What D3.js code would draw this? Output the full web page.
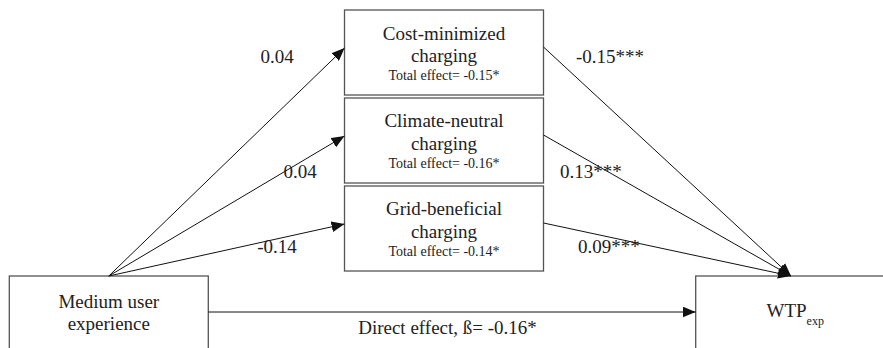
<!DOCTYPE html>
<html>
<head>
<meta charset="utf-8">
<script src="https://cdn.jsdelivr.net/npm/d3@7"></script>
<style>
	body { margin: 0; background: #fff; }
	svg text { fill: #222; }
</style>
</head>
<body>
<svg width="883" height="348" font-family="'Liberation Serif', 'Times New Roman', Times, 'DejaVu Serif', serif"></svg>
<script>
// Data
var mediators = ["Cost-minimized", "Climate-neutral", "Grid-beneficial"];
var mediatorSuffix = "charging";
var totalEffects = [-0.15, -0.16, -0.14];
var totalStars = ["*", "*", "*"];
var aPaths = [0.04, 0.04, -0.14];
var aStars = ["", "", ""];
var bPaths = [-0.15, 0.13, 0.09];
var bStars = ["***", "***", "***"];
var directEffect = -0.16;
var directStars = "*";
var predictorLines = ["Medium user", "experience"];
var outcomeName = "WTP";
var outcomeSub = "exp";

// Layout
var svg = d3.select("svg");
var boxWidth = 199;
var predictorX = 9.3;
var mediatorX = 344.5;
var outcomeX = 695.7;
var bottomY = 276;
var directY = 312;
var outcomeTip = 791;

var fmt = d3.formatLocale({ decimal: ".", thousands: ",", grouping: [3], currency: ["", ""], minus: "-" }).format(".2f");

var rowScale = d3.scaleBand().domain(mediators).range([10, 271]).paddingInner(0.034);

// Label placement per path
var aLabelAt = [[277, 63], [300, 178], [277, 253]];
var bLabelAt = [[576, 63], [560, 178], [578, 253]];

svg.append("defs")
	.append("marker")
	.attr("id", "arrow")
	.attr("viewBox", "0 0 12 10")
	.attr("refX", 12)
	.attr("refY", 5)
	.attr("markerUnits", "userSpaceOnUse")
	.attr("markerWidth", 13)
	.attr("markerHeight", 11)
	.attr("orient", "auto")
	.append("path")
	.attr("d", "M0,0L12,5L0,10Z")
	.attr("fill", "#111");

var boxes = svg.append("g").attr("fill", "#fff").attr("stroke", "#555").attr("stroke-width", 1.3);
var lines = svg.append("g").attr("stroke", "#111").attr("stroke-width", 1);
var labels = svg.append("g");

// predictor and outcome boxes
boxes.append("rect").attr("x", predictorX).attr("y", bottomY).attr("width", boxWidth).attr("height", 120);
boxes.append("rect").attr("x", outcomeX).attr("y", bottomY).attr("width", boxWidth).attr("height", 120);

// mediator boxes
boxes.selectAll("rect.med")
	.data(mediators)
	.join("rect")
	.attr("class", "med")
	.attr("x", mediatorX)
	.attr("y", (d) => rowScale(d))
	.attr("width", boxWidth)
	.attr("height", rowScale.bandwidth());

var srcX = predictorX + boxWidth / 2;

// a paths
lines.selectAll("line.a")
	.data(mediators)
	.join("line")
	.attr("class", "a")
	.attr("x1", srcX)
	.attr("y1", bottomY)
	.attr("x2", mediatorX)
	.attr("y2", (d) => rowScale(d) + 38)
	.attr("marker-end", "url(#arrow)");

// b paths
lines.selectAll("line.b")
	.data(mediators)
	.join("line")
	.attr("class", "b")
	.attr("x1", mediatorX + boxWidth)
	.attr("y1", (d) => rowScale(d) + 37)
	.attr("x2", outcomeTip)
	.attr("y2", bottomY)
	.attr("marker-end", "url(#arrow)");

// direct path
lines.append("line")
	.attr("x1", predictorX + boxWidth)
	.attr("y1", directY)
	.attr("x2", outcomeX)
	.attr("y2", directY)
	.attr("marker-end", "url(#arrow)");

// mediator texts
var medCx = mediatorX + boxWidth / 2;
mediators.forEach((name, i) => {
	var top = rowScale(name);
	var t = labels.append("text").attr("text-anchor", "middle");
	t.append("tspan").attr("x", medCx).attr("y", top + 29.5).attr("font-size", 19).text(name);
	t.append("tspan").attr("x", medCx).attr("y", top + 52).attr("font-size", 19).text(mediatorSuffix);
	t.append("tspan").attr("x", medCx).attr("y", top + 70).attr("font-size", 14)
		.text("Total effect= " + fmt(totalEffects[i]) + totalStars[i]);

	labels.append("text")
		.attr("x", aLabelAt[i][0])
		.attr("y", aLabelAt[i][1])
		.attr("text-anchor", "middle")
		.attr("font-size", 19)
		.text(fmt(aPaths[i]) + aStars[i]);

	labels.append("text")
		.attr("x", bLabelAt[i][0])
		.attr("y", bLabelAt[i][1])
		.attr("font-size", 19)
		.text(fmt(bPaths[i]) + bStars[i]);
});

// predictor text
labels.append("text")
	.attr("text-anchor", "middle")
	.attr("font-size", 19)
	.selectAll("tspan")
	.data(predictorLines)
	.join("tspan")
	.attr("x", srcX)
	.attr("y", (d, i) => 308 + i * 22)
	.text((d) => d);

// outcome text
var outText = labels.append("text")
	.attr("x", outcomeX + boxWidth / 2)
	.attr("y", 317)
	.attr("text-anchor", "middle")
	.attr("font-size", 19);
outText.append("tspan").text(outcomeName);
outText.append("tspan").attr("dy", 8).attr("font-size", 12).text(outcomeSub);

// direct effect label
labels.append("text")
	.attr("x", 447.5)
	.attr("y", 334)
	.attr("text-anchor", "middle")
	.attr("font-size", 19)
	.text("Direct effect, \u00df= " + fmt(directEffect) + directStars);
</script>
</body>
</html>
